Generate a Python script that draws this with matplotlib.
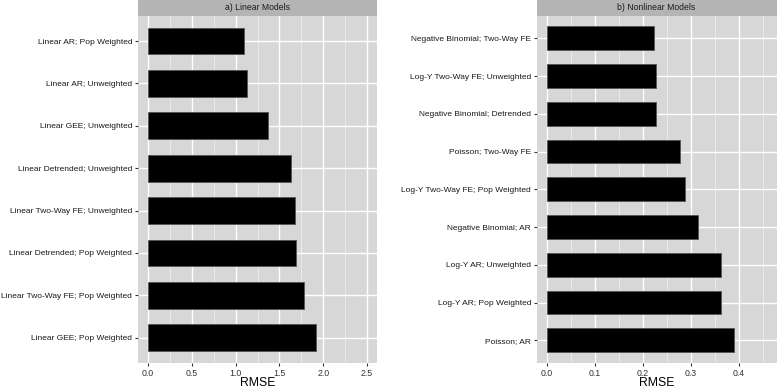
import numpy as np
import matplotlib
matplotlib.use("Agg")
import matplotlib.pyplot as plt

# top-to-bottom order as shown in the chart
lin_labels = ['Linear AR; Pop Weighted', 'Linear AR; Unweighted', 'Linear GEE; Unweighted',
              'Linear Detrended; Unweighted', 'Linear Two-Way FE; Unweighted',
              'Linear Detrended; Pop Weighted', 'Linear Two-Way FE; Pop Weighted',
              'Linear GEE; Pop Weighted']
lin_rmse = [1.09, 1.13, 1.37, 1.63, 1.68, 1.69, 1.78, 1.92]

nl_labels = ['Negative Binomial; Two-Way FE', 'Log-Y Two-Way FE; Unweighted',
             'Negative Binomial; Detrended', 'Poisson; Two-Way FE',
             'Log-Y Two-Way FE; Pop Weighted', 'Negative Binomial; AR',
             'Log-Y AR; Unweighted', 'Log-Y AR; Pop Weighted', 'Poisson; AR']
nl_rmse = [0.223, 0.227, 0.228, 0.277, 0.288, 0.316, 0.363, 0.364, 0.390]

lin_ticks = [0.0, 0.5, 1.0, 1.5, 2.0, 2.5]
nl_ticks = [0.0, 0.1, 0.2, 0.3, 0.4]

plt.rcParams['font.family'] = ['Liberation Sans', 'DejaVu Sans']

W, H = 777, 388
fig = plt.figure(figsize=(W / 100, H / 100), dpi=100)

panel_bg = '#d7d7d7'
strip_bg = '#b4b4b4'


def panel(x0, x1, title, labels, vals, ticks, xlim):
    top, bot = 15.7, 363
    ax = fig.add_axes([x0 / W, (H - bot) / H, (x1 - x0) / W, (bot - top) / H])
    n = len(labels)
    y = np.arange(n)[::-1]
    ax.set_facecolor(panel_bg)
    ax.barh(y, vals, height=0.63, color='black', edgecolor='#555555', linewidth=0.6, zorder=3)
    ax.set_yticks(y)
    ax.set_yticklabels(labels, fontsize=6.0, color='#1a1a1a')
    ax.set_xticks(ticks)
    ax.set_xticklabels(['%.1f' % t for t in ticks], fontsize=6.3, color='#333333')
    step = ticks[1] - ticks[0]
    minor = np.arange(ticks[0] + step / 2, xlim[1], step)
    ax.set_xticks(minor, minor=True)
    ax.set_xlim(*xlim)
    ax.set_ylim(-0.6, n - 0.4)
    ax.tick_params(axis='x', which='minor', length=0)
    ax.tick_params(axis='both', which='major', length=2.5, width=0.8, color='#333333', pad=1.5)
    ax.grid(True, which='major', color='white', linewidth=1.0, zorder=1)
    ax.grid(True, which='minor', axis='x', color='#f2f2f2', linewidth=0.5, zorder=1)
    ax.set_axisbelow(True)
    for s in ax.spines.values():
        s.set_visible(False)
    ax.set_xlabel('RMSE', fontsize=8.8, labelpad=-0.5)
    # facet strip
    sx = fig.add_axes([x0 / W, (H - top) / H, (x1 - x0) / W, top / H])
    sx.set_facecolor(strip_bg)
    sx.set_xticks([])
    sx.set_yticks([])
    for s in sx.spines.values():
        s.set_visible(False)
    sx.text(0.5, 0.5, title, ha='center', va='center', fontsize=6.2, color='#1a1a1a',
            transform=sx.transAxes)
    return ax


panel(137.7, 376.7, 'a) Linear Models', lin_labels, lin_rmse, lin_ticks, (-0.118, 2.61))
panel(536.7, 776.5, 'b) Nonlinear Models', nl_labels, nl_rmse, nl_ticks, (-0.021, 0.479))

fig.savefig('out.png', dpi=100)
